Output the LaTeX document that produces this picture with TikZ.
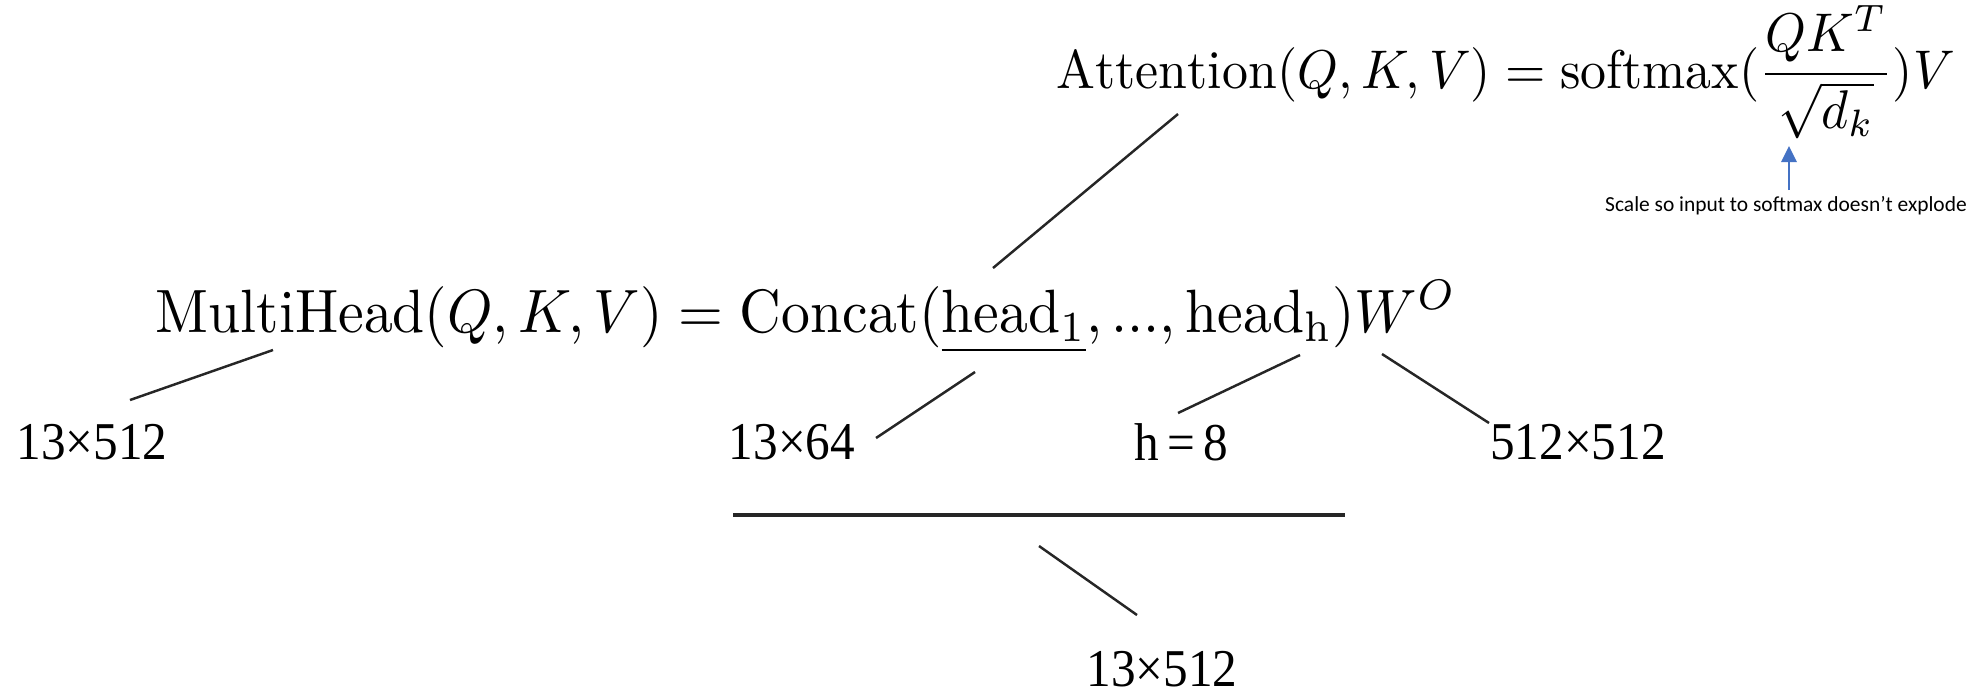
\documentclass[tikz,border=0pt]{standalone}
\usepackage{fontspec}
\usepackage{amsmath}
\usetikzlibrary{arrows.meta}
\newfontfamily\numfont{Liberation Serif}
\newfontfamily\notefont{Carlito}
\definecolor{noteblue}{RGB}{68,114,196}
\newcommand{\tallnum}[1]{\scalebox{1}[1.08]{#1}}

\begin{document}
\begin{tikzpicture}[
        x=0.01cm, y=-0.01cm,
        formula/.style={inner sep=0pt, anchor=base west},
        dim/.style={inner sep=0pt, font=\numfont\fontsize{14}{16}\selectfont},
        link/.style={line width=0.7pt, draw=black!85},
        bar/.style={line width=1.1pt, draw=black!85},
        ptr/.style={-{Triangle[length=4.6pt,width=4.4pt]}, line width=0.6pt, draw=noteblue}
    ]
        \useasboundingbox (0,0) rectangle (1980,693);

        \node[formula] (attn) at (1056,88) {\scalebox{1.474}[1.55]{$\mathrm{Attention}(Q,K,V) = \mathrm{softmax}(\dfrac{QK^T}{\sqrt{d_k}})V$}};
        \node[formula] (multi) at (155,332) {\scalebox{1.64}[1.74]{$\mathrm{MultiHead}(Q,K,V) = \mathrm{Concat}(\underline{\mathrm{head}_1}, ..., \mathrm{head}_{\mathrm{h}})W^O$}};

        \node[inner sep=0pt, font=\notefont\fontsize{6.1}{7}\selectfont] (note) at (1786,206) {Scale so input to softmax doesn’t explode};

        \node[dim] (inL) at (92,442) {\tallnum{13×512}};
        \node[dim] (headdim) at (792,442) {\tallnum{13×64}};
        \node[dim] (nheads) at (1181,442) {\tallnum{h\,=\,8}};
        \node[dim] (wo) at (1578,442) {\tallnum{512×512}};
        \node[dim] (out) at (1162,669) {\tallnum{13×512}};

        % free ends of the pointer lines
        \coordinate (inLtop) at (130,400);
        \coordinate (multihead) at (273,350);
        \coordinate (headdimtip) at (876,438);
        \coordinate (headone) at (975,372);
        \coordinate (nheadstop) at (1178,413);
        \coordinate (headh) at (1300,355);
        \coordinate (wotop) at (1489,423);
        \coordinate (wmat) at (1382,354);
        \coordinate (concat) at (993,268);
        \coordinate (attnfoot) at (1178,114);
        \coordinate (barL) at (733,515);
        \coordinate (barR) at (1345,515);
        \coordinate (barmid) at (1039,546);
        \coordinate (outtop) at (1137,615);
        \coordinate (notetop) at (1789,190);
        \coordinate (dk) at (1789,146);

        \draw[link] (inLtop) -- (multihead);
        \draw[link] (headdimtip) -- (headone);
        \draw[link] (nheadstop) -- (headh);
        \draw[link] (wotop) -- (wmat);
        \draw[link] (concat) -- (attnfoot);
        \draw[bar] (barL) -- (barR);
        \draw[link] (barmid) -- (outtop);
        \draw[ptr] (notetop) -- (dk);
    \end{tikzpicture}
\end{document}
